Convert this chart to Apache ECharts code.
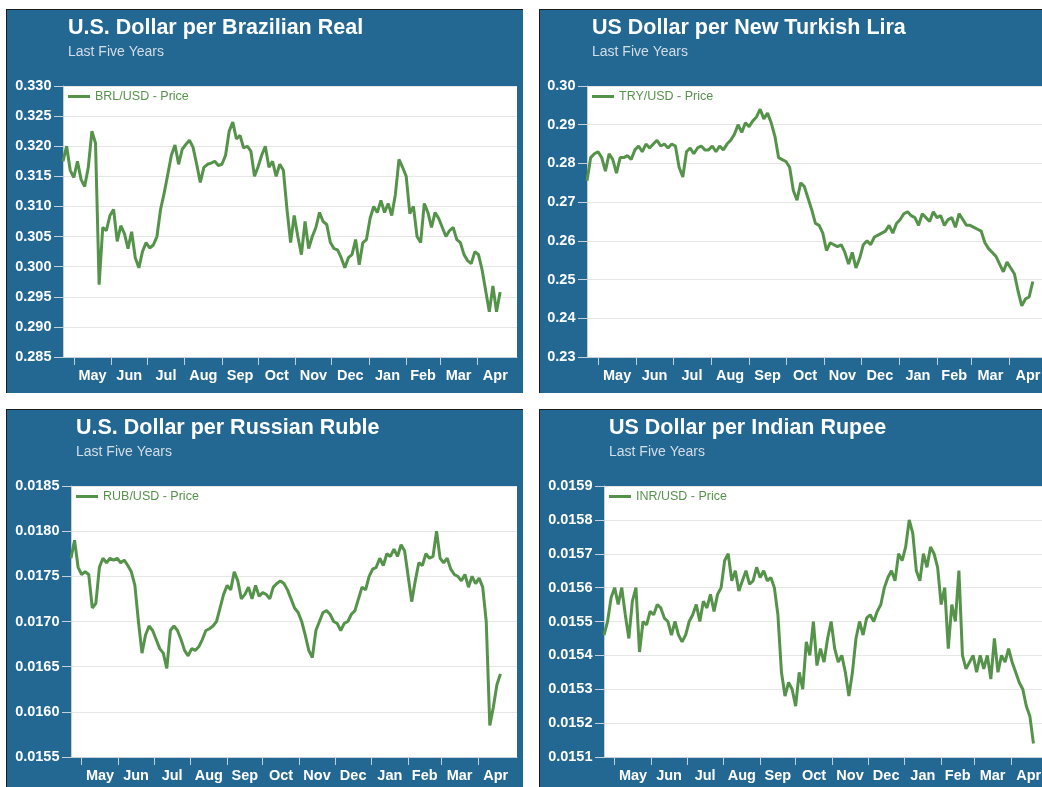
<!DOCTYPE html>
<html>
<head>
<meta charset="utf-8">
<script src="https://cdn.jsdelivr.net/npm/echarts@6/dist/echarts.min.js"></script>
<style>
html, body { margin: 0; padding: 0; background: #fff; overflow: hidden; }
body { width: 1042px; height: 787px; position: relative; }
.panel { position: absolute; width: 516px; height: 383px; background: #236893;
         border-top: 1px solid #1a1a1a; border-left: 1px solid #1a1a1a; }
</style>
</head>
<body>
<div id="brl" class="panel" style="left:6px;top:9px"></div>
<div id="try" class="panel" style="left:539px;top:9px"></div>
<div id="rub" class="panel" style="left:6px;top:409px"></div>
<div id="inr" class="panel" style="left:539px;top:409px"></div>
<script>
// one sample every 3 days, starting 2017-04-22
const startDate = '2017-04-22';
const stepDays = 3;
const axisEnd = '2018-05-04';

const monthStarts = ['2017-05-01', '2017-06-01', '2017-07-01', '2017-08-01', '2017-09-01', '2017-10-01',
                     '2017-11-01', '2017-12-01', '2018-01-01', '2018-02-01', '2018-03-01', '2018-04-01', '2018-05-01'];
const monthNames = ['May', 'Jun', 'Jul', 'Aug', 'Sep', 'Oct', 'Nov', 'Dec', 'Jan', 'Feb', 'Mar', 'Apr'];

const brlValues = [
  0.3175, 0.3200, 0.3160, 0.3148, 0.3175, 0.3145, 0.3133, 0.3165, 0.3225, 0.3205,
  0.2970, 0.3065, 0.3060, 0.3085, 0.3095, 0.3042, 0.3068, 0.3055, 0.3030, 0.3058,
  0.3015, 0.2998, 0.3025, 0.3040, 0.3031, 0.3036, 0.3050, 0.3095, 0.3122, 0.3153,
  0.3185, 0.3202, 0.3170, 0.3195, 0.3203, 0.3210, 0.3198, 0.3170, 0.3140, 0.3165,
  0.3170, 0.3172, 0.3175, 0.3168, 0.3170, 0.3185, 0.3225, 0.3240, 0.3212, 0.3218,
  0.3197, 0.3200, 0.3192, 0.3150, 0.3166, 0.3185, 0.3200, 0.3165, 0.3175, 0.3150,
  0.3170, 0.3160, 0.3095, 0.3040, 0.3085, 0.3050, 0.3020, 0.3075, 0.3030, 0.3050,
  0.3065, 0.3090, 0.3075, 0.3070, 0.3040, 0.3030, 0.3028, 0.3015, 0.2998, 0.3015,
  0.3020, 0.3045, 0.3003, 0.3040, 0.3045, 0.3080, 0.3100, 0.3090, 0.3110, 0.3090,
  0.3105, 0.3085, 0.3120, 0.3178, 0.3165, 0.3150, 0.3088, 0.3100, 0.3050, 0.3040,
  0.3105, 0.3090, 0.3065, 0.3090, 0.3080, 0.3065, 0.3050, 0.3060, 0.3065, 0.3045,
  0.3040, 0.3020, 0.3010, 0.3005, 0.3025, 0.3020, 0.2995, 0.2960, 0.2925, 0.2968,
  0.2925, 0.2958
];

const tryValues = [
  0.2755, 0.2815, 0.2825, 0.2830, 0.2815, 0.2780, 0.2825, 0.2810, 0.2775, 0.2815,
  0.2815, 0.2820, 0.2810, 0.2835, 0.2845, 0.2830, 0.2850, 0.2840, 0.2850, 0.2860,
  0.2845, 0.2850, 0.2840, 0.2850, 0.2845, 0.2790, 0.2765, 0.2830, 0.2840, 0.2825,
  0.2840, 0.2845, 0.2835, 0.2835, 0.2845, 0.2830, 0.2845, 0.2835, 0.2850, 0.2860,
  0.2875, 0.2900, 0.2880, 0.2905, 0.2895, 0.2910, 0.2920, 0.2940, 0.2915, 0.2930,
  0.2905, 0.2870, 0.2815, 0.2810, 0.2805, 0.2790, 0.2730, 0.2705, 0.2750, 0.2740,
  0.2710, 0.2680, 0.2645, 0.2640, 0.2620, 0.2575, 0.2595, 0.2590, 0.2585, 0.2590,
  0.2570, 0.2540, 0.2570, 0.2530, 0.2555, 0.2590, 0.2600, 0.2590, 0.2610, 0.2615,
  0.2620, 0.2625, 0.2640, 0.2620, 0.2645, 0.2655, 0.2670, 0.2675, 0.2665, 0.2660,
  0.2640, 0.2670, 0.2660, 0.2650, 0.2675, 0.2660, 0.2665, 0.2640, 0.2655, 0.2660,
  0.2635, 0.2670, 0.2655, 0.2640, 0.2640, 0.2635, 0.2630, 0.2625, 0.2595, 0.2580,
  0.2570, 0.2560, 0.2540, 0.2520, 0.2545, 0.2530, 0.2515, 0.2470, 0.2432, 0.2450,
  0.2455, 0.2495
];

const rubValues = [
  0.01770, 0.01790, 0.01760, 0.01752, 0.01755, 0.01752, 0.01715, 0.01720, 0.01760, 0.01770,
  0.01765, 0.01770, 0.01768, 0.01770, 0.01765, 0.01768, 0.01762, 0.01755, 0.01740, 0.01700,
  0.01665, 0.01685, 0.01695, 0.01690, 0.01680, 0.01670, 0.01665, 0.01648, 0.01690, 0.01695,
  0.01690, 0.01680, 0.01668, 0.01662, 0.01670, 0.01668, 0.01672, 0.01680, 0.01690, 0.01692,
  0.01695, 0.01700, 0.01715, 0.01730, 0.01740, 0.01735, 0.01755, 0.01745, 0.01725, 0.01730,
  0.01738, 0.01725, 0.01740, 0.01728, 0.01732, 0.01730, 0.01725, 0.01738, 0.01742, 0.01745,
  0.01742, 0.01735, 0.01725, 0.01715, 0.01710, 0.01700, 0.01685, 0.01668, 0.01660, 0.01690,
  0.01700, 0.01710, 0.01712, 0.01708, 0.01700, 0.01698, 0.01690, 0.01698, 0.01700, 0.01708,
  0.01712, 0.01725, 0.01738, 0.01735, 0.01750, 0.01758, 0.01760, 0.01770, 0.01762, 0.01775,
  0.01772, 0.01780, 0.01772, 0.01785, 0.01778, 0.01750, 0.01722, 0.01745, 0.01765, 0.01762,
  0.01775, 0.01770, 0.01772, 0.01800, 0.01770, 0.01765, 0.01770, 0.01758, 0.01752, 0.01750,
  0.01745, 0.01752, 0.01738, 0.01750, 0.01742, 0.01748, 0.01738, 0.01700, 0.01585, 0.01605,
  0.01630, 0.01642
];

const inrValues = [
  0.01546, 0.01550, 0.01557, 0.01560, 0.01555, 0.01560, 0.01552, 0.01545, 0.01556, 0.01560,
  0.01541, 0.01550, 0.01549, 0.01553, 0.01552, 0.01555, 0.01554, 0.01551, 0.01550, 0.01546,
  0.01550, 0.01546, 0.01544, 0.01546, 0.01550, 0.01552, 0.01555, 0.01550, 0.01556, 0.01554,
  0.01558, 0.01553, 0.01558, 0.01560, 0.01568, 0.01570, 0.01562, 0.01565, 0.01559, 0.01562,
  0.01565, 0.01561, 0.01562, 0.01566, 0.01563, 0.01565, 0.01562, 0.01563, 0.01560, 0.01552,
  0.01535, 0.01528, 0.01532, 0.01530, 0.01525, 0.01535, 0.01530, 0.01544, 0.01540, 0.01550,
  0.01537, 0.01542, 0.01538, 0.01545, 0.01550, 0.01542, 0.01538, 0.01540, 0.01535, 0.01528,
  0.01535, 0.01545, 0.01550, 0.01546, 0.01551, 0.01552, 0.01550, 0.01553, 0.01555, 0.01560,
  0.01563, 0.01565, 0.01562, 0.01570, 0.01568, 0.01572, 0.01580, 0.01576, 0.01565, 0.01562,
  0.01570, 0.01566, 0.01572, 0.01570, 0.01566, 0.01555, 0.01560, 0.01542, 0.01555, 0.01550,
  0.01565, 0.01540, 0.01536, 0.01538, 0.01540, 0.01535, 0.01540, 0.01536, 0.01540, 0.01533,
  0.01545, 0.01535, 0.01540, 0.01538, 0.01542, 0.01538, 0.01535, 0.01532, 0.01530, 0.01525,
  0.01522, 0.01514
];

const DAY = 86400000;
function dayOffset(d) {
    return (Date.parse(d) - Date.parse(startDate)) / DAY;
}

// ticks on the first of each month, labels in the middle of each month
const tickDays = monthStarts.slice(0, 12).map(dayOffset);
const labelDays = monthNames.map((m, i) => (dayOffset(monthStarts[i]) + dayOffset(monthStarts[i + 1])) / 2);

const green = '#55934a';
const font = '"Liberation Sans", Arial, Helvetica, sans-serif';

function makePanel(id, opts) {
    const chart = echarts.init(document.getElementById(id));
    const data = opts.values.map((v, i) => [i * stepDays, v]);
    const option = {
        animation: false,
        textStyle: {fontFamily: font},
        title: {
            text: opts.title,
            subtext: 'Last Five Years',
            left: opts.gridLeft + 5,
            top: 7.5,
            padding: 0,
            itemGap: 5.5,
            textStyle: {color: '#fff', fontSize: 21.5, fontWeight: 'bold', fontFamily: font},
            subtextStyle: {color: '#d4dee7', fontSize: 14, fontFamily: font}
        },
        legend: {
            data: [opts.name],
            left: opts.gridLeft + 5,
            top: 80,
            padding: 0,
            icon: 'rect',
            itemWidth: 22,
            itemHeight: 3,
            textStyle: {color: green, fontSize: 12.5, fontFamily: font}
        },
        grid: {
            left: opts.gridLeft,
            right: 6,
            top: 76,
            bottom: 36,
            show: true,
            backgroundColor: '#fff',
            borderWidth: 0
        },
        xAxis: {
            type: 'value',
            min: 0,
            max: dayOffset(axisEnd),
            splitLine: {show: false},
            axisLine: {show: true, lineStyle: {color: '#c5d0da', width: 1}},
            axisTick: {show: true, length: 8, customValues: tickDays, lineStyle: {color: '#c5d0da'}},
            axisLabel: {
                customValues: labelDays,
                margin: 11,
                color: '#fff',
                fontWeight: 'bold',
                fontSize: 14.5,
                fontFamily: font,
                formatter: v => {
                    let best = 0;
                    labelDays.forEach((d, i) => { if (Math.abs(d - v) < Math.abs(labelDays[best] - v)) best = i; });
                    return monthNames[best];
                }
            }
        },
        yAxis: {
            type: 'value',
            min: opts.min,
            max: opts.max,
            interval: opts.interval,
            axisLine: {show: true, lineStyle: {color: '#c5d0da', width: 1}},
            axisTick: {show: true, length: 9, lineStyle: {color: '#c5d0da'}},
            splitLine: {show: true, lineStyle: {color: '#e6e6e6', width: 1}},
            axisLabel: {
                margin: 11.5,
                color: '#fff',
                fontWeight: 'bold',
                fontSize: 14.5,
                fontFamily: font,
                formatter: v => v.toFixed(opts.digits)
            }
        },
        series: [{
            name: opts.name,
            type: 'line',
            data: data,
            showSymbol: false,
            color: green,
            lineStyle: {color: green, width: 3},
            emphasis: {disabled: true}
        }]
    };
    chart.setOption(option);
}

makePanel('brl', {title: 'U.S. Dollar per Brazilian Real', name: 'BRL/USD - Price', values: brlValues,
    min: 0.285, max: 0.330, interval: 0.005, digits: 3, gridLeft: 56});
makePanel('try', {title: 'US Dollar per New Turkish Lira', name: 'TRY/USD - Price', values: tryValues,
    min: 0.23, max: 0.30, interval: 0.01, digits: 2, gridLeft: 47});
makePanel('rub', {title: 'U.S. Dollar per Russian Ruble', name: 'RUB/USD - Price', values: rubValues,
    min: 0.0155, max: 0.0185, interval: 0.0005, digits: 4, gridLeft: 64});
makePanel('inr', {title: 'US Dollar per Indian Rupee', name: 'INR/USD - Price', values: inrValues,
    min: 0.0151, max: 0.0159, interval: 0.0001, digits: 4, gridLeft: 64});
</script>
</body>
</html>
